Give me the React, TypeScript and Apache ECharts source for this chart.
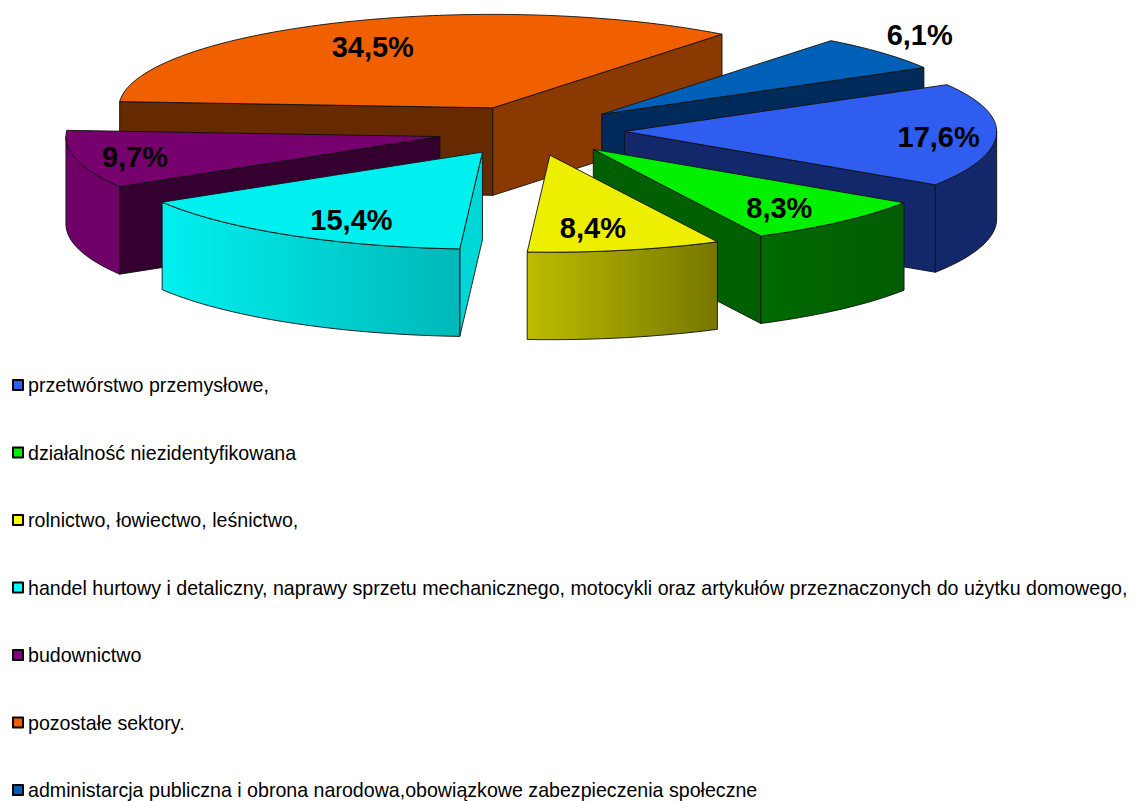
import React, { useEffect, useRef } from "react";
import * as echarts from "echarts";

const categories = [
  "przetwórstwo przemysłowe,",
  "działalność niezidentyfikowana",
  "rolnictwo, łowiectwo, leśnictwo,",
  "handel hurtowy i detaliczny, naprawy sprzetu mechanicznego, motocykli oraz artykułów przeznaczonych do użytku domowego,",
  "budownictwo",
  "pozostałe sektory.",
  "administarcja publiczna i obrona narodowa,obowiązkowe zabezpieczenia społeczne",
];
const shares = [17.6, 8.3, 8.4, 15.4, 9.7, 34.5, 6.1];

// Style and layout, apart from the data
const topColors = ["#2F5DF0", "#00F000", "#EEEE00", "#00F0F0", "#76006E", "#F06000", "#0060B8"];
const legendColors = ["#2F5DF0", "#00F000", "#FFFF00", "#00FFFF", "#800080", "#F06000", "#0060B8"];
const startWallColors = ["#13286B", "#006000", "#8A8A00", "#00D8D8", "#330030", "#652A00", "#002A5A"];
const endWallColors = ["#13286B", "#006000", "#8A8A00", "#00D8D8", "#330030", "#8A3A00", "#002A5A"];
const rimStops: string[][] = [
  ["#13286B", "#13286B"],
  ["#006A00", "#005C00"],
  ["#BCBC00", "#777700"],
  ["#00F0F0", "#00B8B8"],
  ["#6E0068", "#6E0068"],
  ["#652A00", "#652A00"],
  ["#002A5A", "#002A5A"],
];
const labelOffsets = [
  [314, 6],
  [186, 59],
  [43, 73],
  [-131, 68],
  [-305, 20],
  [-120, -61],
  [318, -79],
];
const drawOrder = [5, 6, 4, 0, 1, 3, 2];

const CX = 531;
const CY = 130.7;
const RX_RIGHT = 372;
const RX_LEFT = 374;
const RY_FRONT = 97;
const RY_BACK = 93.5;
const DEPTH = 87.5;
const EXPLODE_X = 93.7;
const EXPLODE_Y = 25;
const START_ANGLE = -30;
const DEG = Math.PI / 180;

function sliceAngles(index: number) {
  const total = shares.reduce((a, b) => a + b, 0);
  let acc = 0;
  for (let i = 0; i < index; i++) acc += shares[i];
  const a = START_ANGLE + (acc / total) * 360;
  const b = a + (shares[index] / total) * 360;
  return [a, b];
}

function rimPoint(ax: number, ay: number, deg: number, dy = 0) {
  const c = Math.cos(deg * DEG);
  const s = Math.sin(deg * DEG);
  return [ax + (c < 0 ? RX_LEFT : RX_RIGHT) * c, ay + (s < 0 ? RY_BACK : RY_FRONT) * s + dy];
}

function arcPoints(ax: number, ay: number, a: number, b: number, dy = 0) {
  const pts: number[][] = [];
  const n = Math.max(2, Math.ceil(Math.abs(b - a) / 2));
  for (let i = 0; i <= n; i++) pts.push(rimPoint(ax, ay, a + ((b - a) * i) / n, dy));
  return pts;
}

function makeRenderItem(index: number) {
  return () => {
    const [a, b] = sliceAngles(index);
    const mid = ((a + b) / 2) * DEG;
    const ax = CX + EXPLODE_X * Math.cos(mid);
    const ay = CY + EXPLODE_Y * Math.sin(mid);
    const stroke = { stroke: "#111", lineWidth: 0.9, lineJoin: "round" };
    const children: any[] = [];

    const wall = (ang: number, fill: string) => {
      const [x, y] = rimPoint(ax, ay, ang);
      children.push({
        type: "polygon",
        shape: { points: [[ax, ay], [x, y], [x, y + DEPTH], [ax, ay + DEPTH]] },
        style: { fill, ...stroke },
      });
    };
    if (Math.cos(a * DEG) < 0) wall(a, startWallColors[index]);
    if (Math.cos(b * DEG) > 0) wall(b, endWallColors[index]);

    for (const shift of [0, 360]) {
      const lo = Math.max(a + shift, 0);
      const hi = Math.min(b + shift, 180);
      if (hi > lo) {
        const top = arcPoints(ax, ay, lo, hi);
        const bottom = arcPoints(ax, ay, hi, lo, DEPTH);
        children.push({
          type: "polygon",
          shape: { points: [...top, ...bottom] },
          style: {
            fill: new echarts.graphic.LinearGradient(0, 0, 1, 0, [
              { offset: 0, color: rimStops[index][0] },
              { offset: 1, color: rimStops[index][1] },
            ]),
            ...stroke,
          },
        });
      }
    }

    children.push({
      type: "polygon",
      shape: { points: [[ax, ay], ...arcPoints(ax, ay, a, b)] },
      style: { fill: topColors[index], ...stroke },
    });
    children.push({
      type: "text",
      style: {
        text: shares[index].toFixed(1).replace(".", ",") + "%",
        x: ax + labelOffsets[index][0],
        y: ay + labelOffsets[index][1],
        fill: "#000",
        font: 'bold 29px "Liberation Sans", Arial, sans-serif',
        textAlign: "center",
        textVerticalAlign: "middle",
      },
    });
    return { type: "group", children };
  };
}

export default function App() {
  const ref = useRef<HTMLDivElement>(null);
  useEffect(() => {
    const chart = echarts.init(ref.current!, undefined, { renderer: "svg" });
    chart.setOption({
      animation: false,
      backgroundColor: "#fff",
      legend: {
        show: true,
        orient: "vertical",
        left: 12,
        top: 375,
        width: 1120,
        height: 500,
        padding: 0,
        itemWidth: 10,
        itemHeight: 10,
        itemGap: 47.5,
        icon: "rect",
        selectedMode: false,
        data: categories,
        itemStyle: { borderColor: "#000", borderWidth: 2, borderJoin: "round" },
        textStyle: {
          color: "#000",
          fontSize: 19.62,
          lineHeight: 19.5,
          fontFamily: '"Liberation Sans", Arial, sans-serif',
        },
      },
      series: drawOrder.map((i) => ({
        type: "custom",
        name: categories[i],
        coordinateSystem: "none",
        silent: true,
        itemStyle: { color: legendColors[i] },
        data: [[shares[i]]],
        renderItem: makeRenderItem(i),
      })),
    });
    return () => chart.dispose();
  }, []);
  return (
    <div
      ref={ref}
      style={{ position: "absolute", left: 0, top: 0, width: 1133, height: 801 }}
    />
  );
}
